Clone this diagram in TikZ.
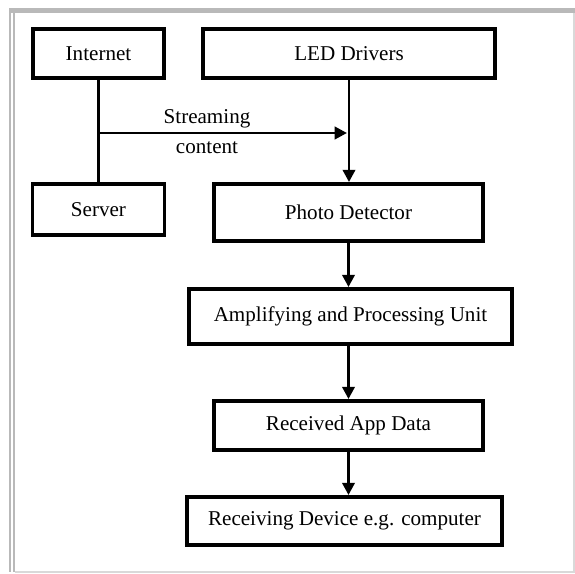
\documentclass[tikz,border=0pt]{standalone}
\usepackage{fontspec}
\setmainfont{Liberation Serif}
\usetikzlibrary{arrows.meta}

\newcommand{\px}{0.02cm}

\begin{document}
\begin{tikzpicture}[x=\px, y=-\px,
	block/.style={draw, line width=2.2pt, inner sep=0pt, font=\fontsize{12}{14}\selectfont},
	flow/.style={line width=1.7pt, -{Triangle[length=7pt, width=7pt]}}]
	
	\useasboundingbox (0,0) rectangle (575,574);
	
	% Frame
	\fill[gray!55] (9,8) rectangle (15,572);
	\fill[gray!55] (9,8) rectangle (575,13);
	\draw[white, line width=0.6pt] (12,13) -- (12,572);
	\draw[gray!30, line width=0.8pt] (15,572) -- (574,572) -- (574,13);
	
	% Nodes
	\node[block, minimum width=131*\px, minimum height=49*\px] (internet) at (98.5,53.5) {Internet};
	\node[block, minimum width=292*\px, minimum height=49*\px] (led) at (349,53.5) {LED Drivers};
	\node[block, minimum width=132*\px, minimum height=51*\px] (server) at (98.5,209.5) {Server};
	\node[block, minimum width=269*\px, minimum height=57*\px] (photo) at (348.5,212.5) {Photo Detector};
	\node[block, minimum width=323*\px, minimum height=55*\px] (amp) at (350.5,316.5) {Amplifying and Processing Unit};
	\node[block, minimum width=269*\px, minimum height=49*\px] (recv) at (348.5,425.5) {Received App Data};
	\node[block, minimum width=315*\px, minimum height=48*\px] (device) at (344.5,521) {Receiving Device e.g. computer};
	
	% Streaming path
	\coordinate (split) at (98.5,133);
	\draw[line width=1.7pt] (internet) -- (server);
	\draw[flow] (split) -- (347,133);
	\node[align=center, font=\fontsize{12}{17}\selectfont] (stream) at (207,132) {Streaming\\content};
	
	% Directed edges
	\draw[flow] (led.south) -- (led.south |- photo.north);
	\draw[flow] (photo.south) -- (photo.south |- amp.north);
	\draw[flow] (amp.south -| recv.north) -- (recv.north);
	\draw[flow] (recv.south) -- (recv.south |- device.north);
\end{tikzpicture}
\end{document}
